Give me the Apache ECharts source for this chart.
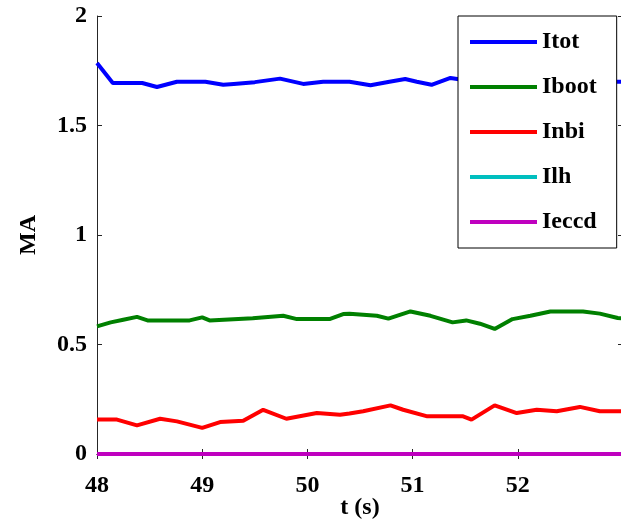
<!DOCTYPE html>
<html>
<head>
<meta charset="utf-8">
<script src="https://cdn.jsdelivr.net/npm/echarts@6/dist/echarts.min.js"></script>
<style>html,body{margin:0;padding:0;background:#fff;}#c{width:621px;height:526px;}</style>
</head>
<body>
<div id="c"></div>
<script>
// ---- data ----
var seriesNames = ['Itot', 'Iboot', 'Inbi', 'Ilh', 'Ieccd'];
var xTicks = [48, 49, 50, 51, 52];
var yTicks = [0, 0.5, 1, 1.5, 2];

var tItot = [48.0, 48.15, 48.43, 48.57, 48.76, 49.03, 49.2, 49.3, 49.5, 49.74, 49.96, 50.15, 50.4, 50.6, 50.78, 50.93, 51.04, 51.18, 51.36, 51.6, 52.0, 52.4, 52.8, 53.0];
var itot  = [1.785, 1.694, 1.694, 1.676, 1.70, 1.70, 1.686, 1.69, 1.698, 1.714, 1.69, 1.70, 1.70, 1.684, 1.70, 1.712, 1.70, 1.686, 1.717, 1.70, 1.70, 1.71, 1.70, 1.70];

var tIboot = [48.0, 48.13, 48.25, 48.38, 48.48, 48.88, 49.0, 49.07, 49.48, 49.77, 49.9, 50.21, 50.34, 50.4, 50.66, 50.77, 50.98, 51.17, 51.38, 51.51, 51.64, 51.78, 51.95, 52.12, 52.31, 52.62, 52.78, 52.95, 53.0];
var iboot  = [0.583, 0.601, 0.613, 0.626, 0.61, 0.61, 0.624, 0.61, 0.62, 0.631, 0.616, 0.616, 0.639, 0.64, 0.631, 0.618, 0.651, 0.631, 0.601, 0.61, 0.595, 0.571, 0.616, 0.631, 0.651, 0.651, 0.641, 0.621, 0.62];

var tInbi = [48.0, 48.19, 48.38, 48.6, 48.76, 49.0, 49.17, 49.39, 49.58, 49.8, 50.09, 50.31, 50.4, 50.53, 50.79, 50.91, 51.14, 51.48, 51.56, 51.78, 51.99, 52.18, 52.37, 52.59, 52.78, 53.0];
var inbi  = [0.157, 0.157, 0.131, 0.161, 0.149, 0.119, 0.146, 0.152, 0.202, 0.161, 0.187, 0.179, 0.185, 0.195, 0.222, 0.202, 0.172, 0.172, 0.157, 0.222, 0.187, 0.202, 0.195, 0.215, 0.195, 0.195];

var tZero = [48.0, 49.0, 50.0, 51.0, 52.0, 53.0];
var ilh   = [0, 0, 0, 0, 0, 0];
var ieccd = [0, 0, 0, 0, 0, 0];

function pairs(t, v) { return t.map(function (x, i) { return [x, v[i]]; }); }

var colors = ['#0000FF', '#008000', '#FF0000', '#00BFBF', '#BF00BF'];
var FONT = 'Liberation Serif';
var axisColor = '#262626';

var chart = echarts.init(document.getElementById('c'), null, {renderer: 'canvas'});

function lineSeries(name, data, color, clip) {
  return {
    name: name, type: 'line', data: data, showSymbol: false, symbol: 'none',
    lineStyle: {color: color, width: 4}, itemStyle: {color: color},
    clip: clip, animation: false, z: 3
  };
}

var xLabelFmt = function (v) { return xTicks.indexOf(Math.round(v * 1000) / 1000) >= 0 ? String(v) : ''; };
var yLabelFmt = function (v) { return yTicks.indexOf(Math.round(v * 1000) / 1000) >= 0 ? String(v) : ''; };

chart.setOption({
  backgroundColor: '#fff',
  animation: false,
  grid: {left: 97, right: -2, top: 16, bottom: 72, containLabel: false, outerBoundsMode: 'none'},
  xAxis: [{
    type: 'value', min: 48, max: 53, interval: 1, position: 'bottom',
    name: 't (s)', nameLocation: 'middle', nameGap: 42, nameMoveOverlap: false,
    nameTextStyle: {fontFamily: FONT, fontWeight: 'bold', fontSize: 24, color: '#000'},
    axisLine: {show: true, lineStyle: {color: axisColor, width: 1}},
    axisTick: {show: true, inside: true, length: 5, lineStyle: {color: axisColor}},
    axisLabel: {formatter: xLabelFmt, margin: 20, fontFamily: FONT, fontWeight: 'bold', fontSize: 24, color: '#000'},
    splitLine: {show: false}
  }, {
    type: 'value', min: 48, max: 53, interval: 1, position: 'top',
    axisLine: {show: true, lineStyle: {color: axisColor, width: 1}},
    axisTick: {show: true, inside: true, length: 5, lineStyle: {color: axisColor}},
    axisLabel: {show: false}, splitLine: {show: false}
  }],
  yAxis: [{
    type: 'value', min: 0, max: 2, interval: 0.5, position: 'left',
    name: 'MA', nameLocation: 'middle', nameGap: 56, nameRotate: 90,
    nameTextStyle: {fontFamily: FONT, fontWeight: 'bold', fontSize: 24, color: '#000'},
    axisLine: {show: true, lineStyle: {color: axisColor, width: 1}},
    axisTick: {show: true, inside: true, length: 5, lineStyle: {color: axisColor}},
    axisLabel: {formatter: yLabelFmt, margin: 10, fontFamily: FONT, fontWeight: 'bold', fontSize: 24, color: '#000'},
    splitLine: {show: false}
  }, {
    type: 'value', min: 0, max: 2, interval: 0.5, position: 'right',
    axisLine: {show: true, lineStyle: {color: axisColor, width: 1}},
    axisTick: {show: true, inside: true, length: 5, lineStyle: {color: axisColor}},
    axisLabel: {show: false}, splitLine: {show: false}
  }],
  legend: {
    data: seriesNames, orient: 'vertical', left: 458, top: 16,
    padding: [14, 20, 14, 12], itemWidth: 67, itemHeight: 4, itemGap: 21,
    icon: 'rect', z: 20,
    backgroundColor: '#fff', borderColor: '#000', borderWidth: 1,
    textStyle: {fontFamily: FONT, fontWeight: 'bold', fontSize: 24, color: '#000', lineHeight: 24}
  },
  series: [
    lineSeries(seriesNames[0], pairs(tItot, itot), colors[0], true),
    lineSeries(seriesNames[1], pairs(tIboot, iboot), colors[1], true),
    lineSeries(seriesNames[2], pairs(tInbi, inbi), colors[2], true),
    lineSeries(seriesNames[3], pairs(tZero, ilh), colors[3], false),
    lineSeries(seriesNames[4], pairs(tZero, ieccd), colors[4], false)
  ]
});
</script>
</body>
</html>
